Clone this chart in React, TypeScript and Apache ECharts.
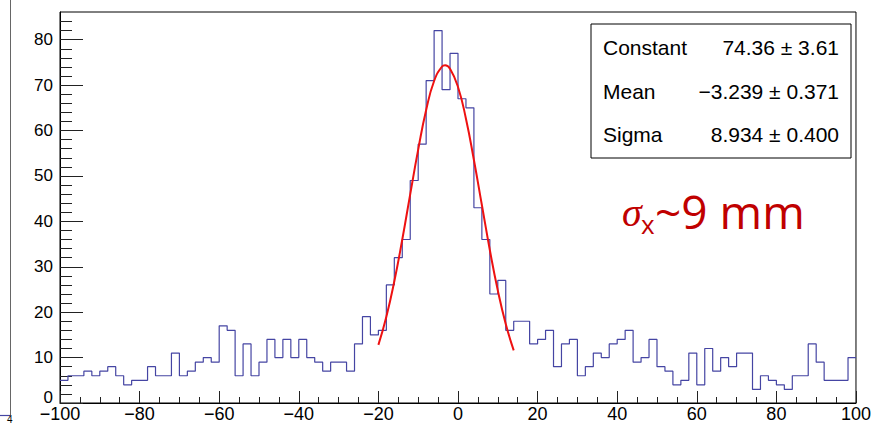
import { useEffect, useRef } from "react";
import * as echarts from "echarts";

// Histogram: 100 bins of width 2 from -100 to 100
const binLow = -100;
const binWidth = 2;
const counts = [
  5, 6, 6, 7, 6, 7, 8, 6, 4, 5,
  5, 8, 6, 6, 11, 6, 7, 9, 10, 9,
  17, 16, 6, 13, 6, 9, 14, 10, 14, 10,
  14, 10, 9, 7, 9, 9, 7, 13, 19, 15,
  16, 26, 32, 36, 49, 57, 71, 82, 69, 77,
  67, 65, 43, 36, 24, 27, 16, 18, 18, 13,
  14, 16, 8, 13, 14, 6, 8, 11, 10, 13,
  14, 16, 9, 10, 14, 8, 7, 4, 5, 11,
  4, 12, 7, 10, 8, 11, 11, 3, 6, 5,
  4, 3, 6, 6, 13, 9, 5, 5, 5, 10,
];

// Gaussian fit curve
const fitX = [-20, -18, -16, -14, -12, -10, -8, -6, -4, -3.24, -2, 0, 2, 4, 6, 8, 10, 12, 14];
const fitY = [12.8, 19.0, 26.8, 36.0, 46.0, 55.8, 64.5, 70.9, 74.1, 74.36, 73.6, 69.6, 62.6, 53.5, 43.6, 33.7, 24.8, 17.4, 11.6];

const yMajorTicks = [0, 10, 20, 30, 40, 50, 60, 70, 80];
const yMinorTicks = [2, 4, 6, 8, 12, 14, 16, 18, 22, 24, 26, 28, 32, 34, 36, 38, 42, 44, 46, 48, 52, 54, 56, 58, 62, 64, 66, 68, 72, 74, 76, 78, 82, 84];

const statsLabels = ["Constant", "Mean", "Sigma"];
const statsValues = ["74.36 \u00b1 3.61", "\u22123.239 \u00b1 0.371", "8.934 \u00b1 0.400"];

const HIST_COLOR = "#4545a3";
const FIT_COLOR = "#ee1111";
const TEXT_RED = "#c00000";
const FONT = "'Liberation Sans', Arial, sans-serif";

export default function App() {
  const ref = useRef<HTMLDivElement>(null);
  useEffect(() => {
    if (!ref.current) return;
    const chart = echarts.init(ref.current, undefined, { renderer: "svg" });
    const histData: [number, number][] = counts.map((c, i) => [binLow + i * binWidth, c]);
    histData.push([binLow + counts.length * binWidth, counts[counts.length - 1]]);
    const fitData = fitX.map((x, i) => [x, fitY[i]]);

    const statsGraphics: any[] = [
      {
        type: "rect",
        shape: { x: 591, y: 24, width: 260, height: 134 },
        style: { fill: "#fff", stroke: "#000", lineWidth: 1 },
        z: 10,
      },
    ];
    const rowY = [47, 91, 134];
    statsLabels.forEach((l, i) => {
      statsGraphics.push({
        type: "text",
        x: 603,
        y: rowY[i],
        z: 11,
        style: { text: l, fontSize: 21, fontFamily: FONT, fill: "#000", align: "left", textAlign: "left", verticalAlign: "middle", textVerticalAlign: "middle" },
      });
      statsGraphics.push({
        type: "text",
        x: 839,
        y: rowY[i],
        z: 11,
        style: { text: statsValues[i], fontSize: 21, fontFamily: FONT, fill: "#000", align: "right", textAlign: "right", verticalAlign: "middle", textVerticalAlign: "middle" },
      });
    });

    chart.setOption({
      animation: false,
      backgroundColor: "#fff",
      grid: {
        left: 60,
        right: 12,
        top: 12,
        bottom: 22,
        show: true,
        borderColor: "#000",
        borderWidth: 1,
        backgroundColor: "transparent",
      },
      xAxis: {
        type: "value",
        min: -100,
        max: 100,
        interval: 20,
        axisLine: { show: true, onZero: false, lineStyle: { color: "#000", width: 1 } },
        axisTick: { show: true, inside: true, length: 12, lineStyle: { color: "#222" } },
        minorTick: { show: true, splitNumber: 4, length: 6, lineStyle: { color: "#222" } },
        axisLabel: {
          color: "#000",
          fontSize: 18,
          fontFamily: FONT,
          margin: 2,
          formatter: (v: number) => (v < 0 ? "\u2212" + Math.abs(v) : String(v)),
        },
        splitLine: { show: false },
      },
      yAxis: [
        {
          type: "value",
          min: 0,
          max: 86.1,
          axisLine: { show: true, onZero: false, lineStyle: { color: "#000", width: 1 } },
          axisTick: { show: true, inside: true, length: 23, customValues: yMajorTicks, lineStyle: { color: "#222" } },
          axisLabel: {
            color: "#000",
            fontSize: 17,
            fontFamily: FONT,
            margin: 7,
            customValues: yMajorTicks,
            formatter: (v: number) => (v === 0 ? "{z|0}" : String(v)),
            rich: { z: { fontSize: 17, fontFamily: FONT, color: "#000", padding: [0, 0, 12, 0] } },
          },
          splitLine: { show: false },
        },
        {
          type: "value",
          min: 0,
          max: 86.1,
          position: "left",
          axisLine: { show: false, onZero: false },
          axisTick: { show: true, inside: true, length: 12, customValues: yMinorTicks, lineStyle: { color: "#222" } },
          axisLabel: { show: false },
          splitLine: { show: false },
        },
      ],
      series: [
        {
          type: "line",
          step: "end",
          data: histData,
          symbol: "none",
          lineStyle: { color: HIST_COLOR, width: 1.2 },
          z: 2,
        },
        {
          type: "line",
          smooth: true,
          data: fitData,
          symbol: "none",
          lineStyle: { color: FIT_COLOR, width: 2 },
          z: 3,
        },
      ],
      graphic: [
        ...statsGraphics,
        {
          type: "text",
          x: 622,
          y: 212,
          z: 11,
          style: { text: "\u03c3", fontSize: 40, fontStyle: "italic", fontFamily: "'Liberation Serif', serif", fill: TEXT_RED, align: "left", textAlign: "left", verticalAlign: "middle", textVerticalAlign: "middle" },
        },
        {
          type: "text",
          x: 641,
          y: 224,
          z: 11,
          style: { text: "x", fontSize: 26, fontFamily: "'Open Sans', sans-serif", fill: TEXT_RED, align: "left", textAlign: "left", verticalAlign: "middle", textVerticalAlign: "middle" },
        },
        {
          type: "text",
          x: 655,
          y: 211,
          z: 11,
          style: { text: "~9 mm", fontSize: 46, fontFamily: "'Open Sans', sans-serif", fill: TEXT_RED, align: "left", textAlign: "left", verticalAlign: "middle", textVerticalAlign: "middle" },
        },
        {
          type: "line",
          shape: { x1: 10.5, y1: 0, x2: 10.5, y2: 415 },
          style: { stroke: "#666", lineWidth: 1 },
        },
        {
          type: "line",
          shape: { x1: 0, y1: 415.5, x2: 10, y2: 415.5 },
          style: { stroke: HIST_COLOR, lineWidth: 1.2 },
        },
        {
          type: "text",
          x: 7,
          y: 414,
          style: { text: "4", fontSize: 10, fontFamily: FONT, fill: "#000", align: "left", textAlign: "left", verticalAlign: "top", textVerticalAlign: "top" },
        },
      ],
    });
    return () => chart.dispose();
  }, []);
  return <div ref={ref} style={{ position: "absolute", left: 0, top: 0, width: 874, height: 425 }} />;
}
